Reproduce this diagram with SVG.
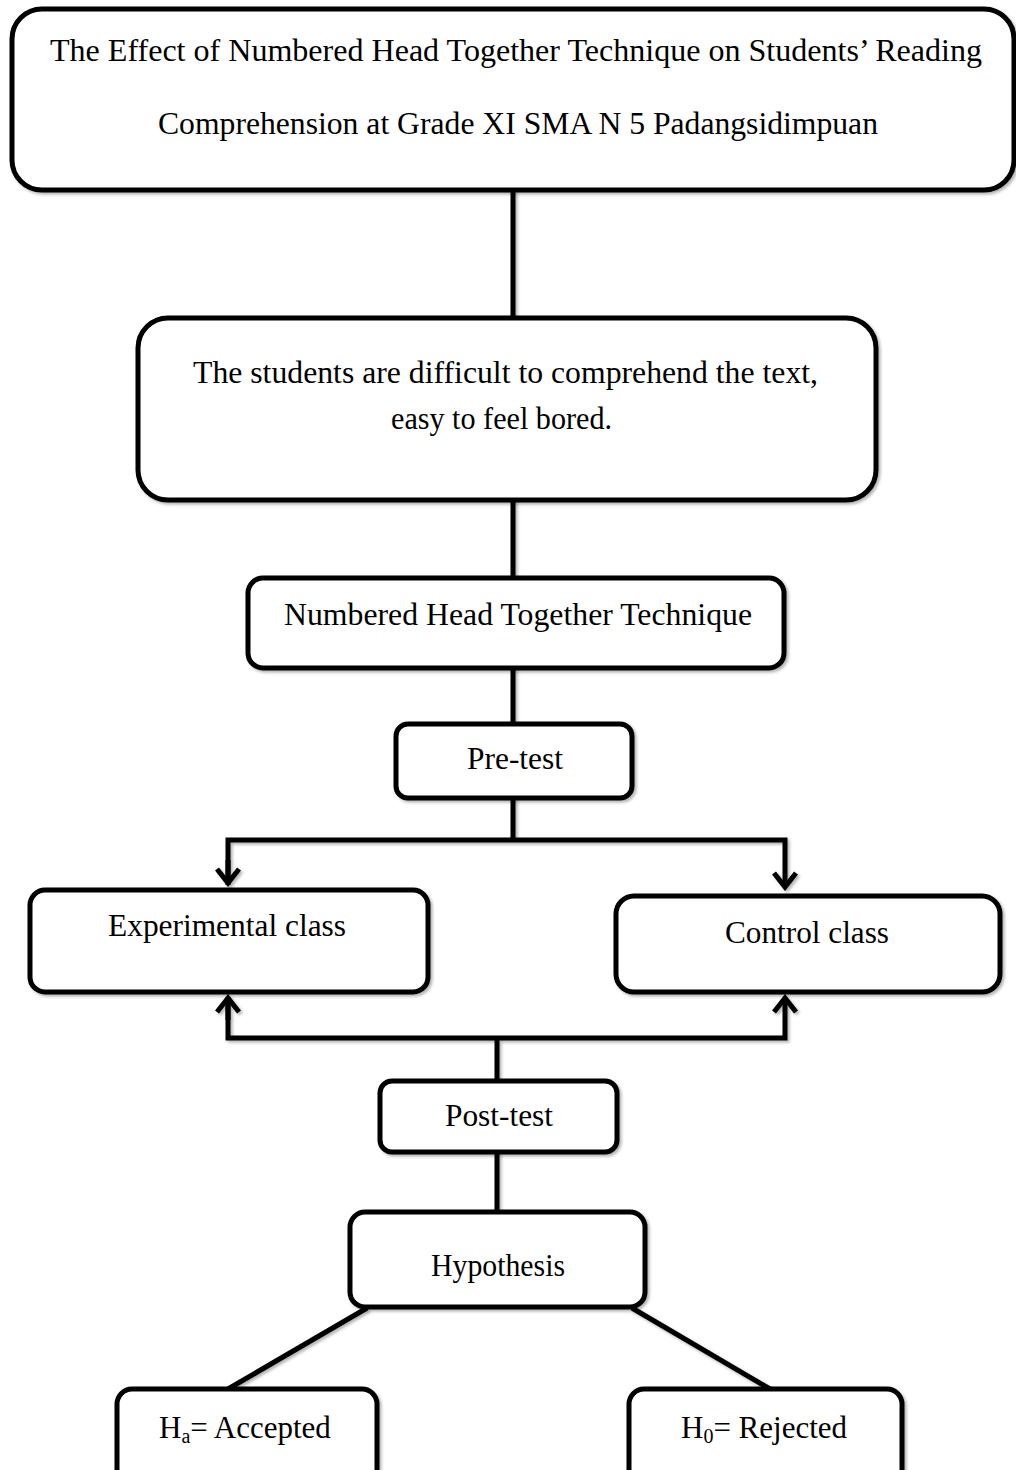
<svg xmlns="http://www.w3.org/2000/svg" width="1016" height="1470" viewBox="0 0 1016 1470">
<style>
.box{fill:#fff;stroke:#000;stroke-width:5;}
.ln{fill:none;stroke:#000;stroke-width:5;}
text{font-family:"Liberation Serif","Times New Roman",serif;font-size:31px;fill:#000;}
</style>
<defs>
<filter id="sh" x="-5%" y="-5%" width="110%" height="115%">
<feDropShadow dx="2" dy="2" stdDeviation="1.5" flood-color="#000" flood-opacity="0.3"/>
</filter>
<marker id="ah" viewBox="-20 -16 24 32" markerWidth="24" markerHeight="32" refX="0" refY="0" orient="auto" markerUnits="userSpaceOnUse">
<path d="M-14,-11 L0,0 L-14,11" fill="none" stroke="#000" stroke-width="5"/>
</marker>
</defs>
<rect width="1016" height="1470" fill="#fff"/>
<g id="connectors" filter="url(#sh)">
<line class="ln" x1="513" y1="190" x2="513" y2="318"/>
<line class="ln" x1="513" y1="500" x2="513" y2="578"/>
<line class="ln" x1="513" y1="668" x2="513" y2="724"/>
<line class="ln" x1="513" y1="798" x2="513" y2="840"/>
<polyline class="ln" points="228,885 228,840 785,840 785,887" marker-end="url(#ah)"/>
<line class="ln" x1="228" y1="860" x2="228" y2="883" marker-end="url(#ah)"/>
<polyline class="ln" points="228,997 228,1038 785,1038 785,998" marker-end="url(#ah)"/>
<line class="ln" x1="228" y1="1020" x2="228" y2="998" marker-end="url(#ah)"/>
<line class="ln" x1="497" y1="1038" x2="497" y2="1081"/>
<line class="ln" x1="497" y1="1152" x2="497" y2="1212"/>
<line class="ln" x1="367" y1="1308" x2="228" y2="1389"/>
<line class="ln" x1="632" y1="1308" x2="770" y2="1389"/>
</g>
<g id="title">
<rect class="box" x="12" y="9" width="1002" height="181" rx="30" filter="url(#sh)"/>
<text x="50" y="61" textLength="932" lengthAdjust="spacingAndGlyphs">The Effect of Numbered Head Together Technique on Students’ Reading</text>
<text x="158" y="134" textLength="720" lengthAdjust="spacingAndGlyphs">Comprehension at Grade XI SMA N 5 Padangsidimpuan</text>
</g>
<g id="problem">
<rect class="box" x="138" y="318" width="738" height="182" rx="30" filter="url(#sh)"/>
<text x="193" y="383" textLength="625" lengthAdjust="spacingAndGlyphs">The students are difficult to comprehend the text,</text>
<text x="391" y="429" textLength="221" lengthAdjust="spacingAndGlyphs">easy to feel bored.</text>
</g>
<g id="technique">
<rect class="box" x="248" y="578" width="536" height="90" rx="15" filter="url(#sh)"/>
<text x="284" y="625" textLength="468" lengthAdjust="spacingAndGlyphs">Numbered Head Together Technique</text>
</g>
<g id="pretest">
<rect class="box" x="396" y="724" width="236" height="74" rx="12" filter="url(#sh)"/>
<text x="467" y="769" textLength="96" lengthAdjust="spacingAndGlyphs">Pre-test</text>
</g>
<g id="experimental">
<rect class="box" x="30" y="890" width="398" height="102" rx="15" filter="url(#sh)"/>
<text x="108" y="936" textLength="238" lengthAdjust="spacingAndGlyphs">Experimental class</text>
</g>
<g id="control">
<rect class="box" x="616" y="896" width="384" height="96" rx="18" filter="url(#sh)"/>
<text x="725" y="943" textLength="164" lengthAdjust="spacingAndGlyphs">Control class</text>
</g>
<g id="posttest">
<rect class="box" x="380" y="1081" width="237" height="71" rx="12" filter="url(#sh)"/>
<text x="445" y="1126" textLength="108" lengthAdjust="spacingAndGlyphs">Post-test</text>
</g>
<g id="hypothesis">
<rect class="box" x="350" y="1212" width="295" height="95" rx="15" filter="url(#sh)"/>
<text x="431" y="1276" textLength="134" lengthAdjust="spacingAndGlyphs">Hypothesis</text>
</g>
<g id="accepted">
<rect class="box" x="117" y="1389" width="260" height="100" rx="15" filter="url(#sh)"/>
<text x="159" y="1438">H<tspan font-size="20" dy="5">a</tspan><tspan dy="-5">= Accepted</tspan></text>
</g>
<g id="rejected">
<rect class="box" x="629" y="1389" width="273" height="100" rx="15" filter="url(#sh)"/>
<text x="681" y="1438">H<tspan font-size="20" dy="5">0</tspan><tspan dy="-5">= Rejected</tspan></text>
</g>
</svg>
